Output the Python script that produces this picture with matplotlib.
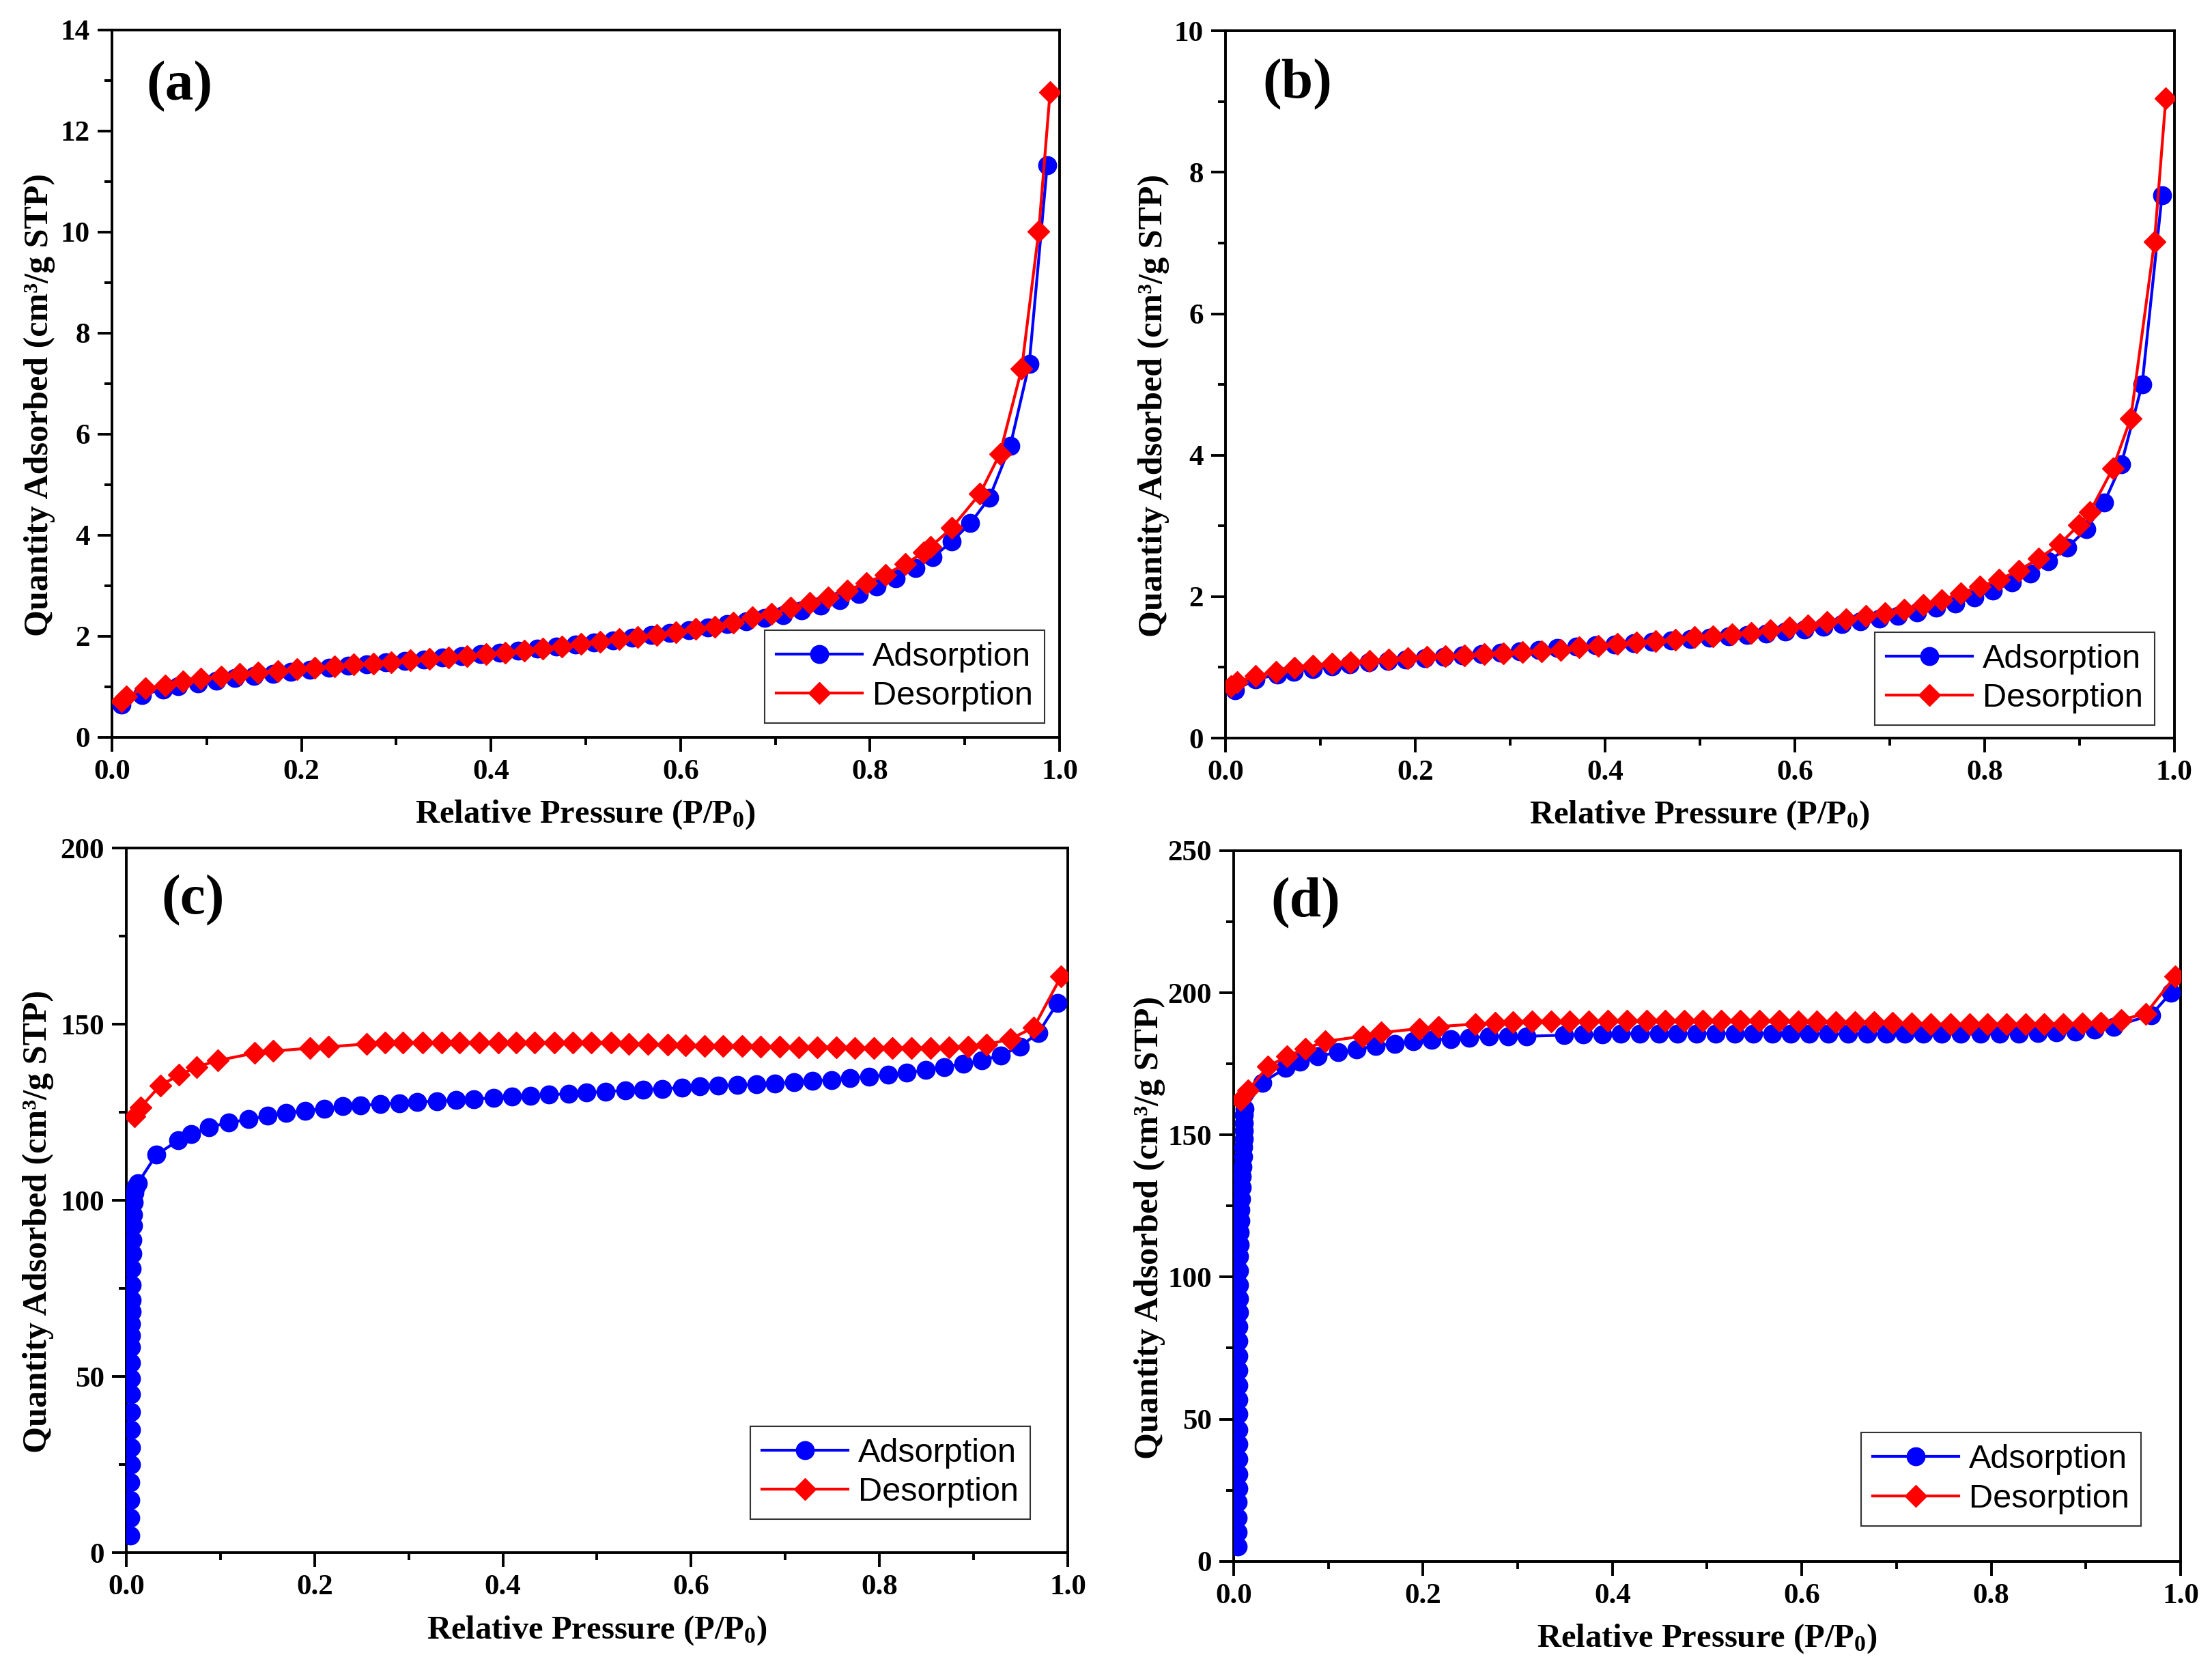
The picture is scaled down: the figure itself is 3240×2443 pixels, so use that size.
import matplotlib
matplotlib.use("Agg")
import matplotlib.pyplot as plt
from matplotlib.ticker import MultipleLocator

# ---- data ----
# (a)
a_ads_x = [0.010, 0.032, 0.054, 0.070, 0.091, 0.110, 0.130, 0.150, 0.170, 0.189,
           0.209, 0.229, 0.249, 0.269, 0.289, 0.309, 0.329, 0.349, 0.369, 0.389,
           0.409, 0.429, 0.449, 0.469, 0.489, 0.509, 0.529, 0.549, 0.569, 0.589,
           0.609, 0.629, 0.649, 0.669, 0.689, 0.708, 0.728, 0.748, 0.768, 0.788,
           0.807, 0.827, 0.848, 0.866, 0.886, 0.906, 0.926, 0.948, 0.968, 0.987]
a_ads_y = [0.65, 0.84, 0.95, 1.01, 1.07, 1.12, 1.17, 1.21, 1.25, 1.30,
           1.33, 1.37, 1.41, 1.44, 1.48, 1.51, 1.54, 1.58, 1.61, 1.64,
           1.68, 1.71, 1.75, 1.79, 1.83, 1.87, 1.92, 1.97, 2.02, 2.07,
           2.12, 2.18, 2.24, 2.30, 2.36, 2.42, 2.51, 2.61, 2.72, 2.84,
           2.98, 3.14, 3.35, 3.56, 3.87, 4.24, 4.74, 5.77, 7.39, 11.33]
a_des_x = [0.010, 0.015, 0.035, 0.056, 0.075, 0.094, 0.115, 0.135, 0.154, 0.175,
           0.195, 0.214, 0.235, 0.255, 0.276, 0.295, 0.315, 0.335, 0.355, 0.375,
           0.395, 0.415, 0.435, 0.455, 0.475, 0.495, 0.515, 0.535, 0.555, 0.575,
           0.595, 0.616, 0.636, 0.656, 0.676, 0.696, 0.716, 0.736, 0.756, 0.776,
           0.796, 0.816, 0.837, 0.857, 0.864, 0.886, 0.916, 0.937, 0.960, 0.978, 0.990]
a_des_y = [0.72, 0.81, 0.97, 1.03, 1.10, 1.16, 1.20, 1.25, 1.28, 1.31,
           1.35, 1.37, 1.40, 1.44, 1.46, 1.49, 1.52, 1.55, 1.58, 1.61,
           1.64, 1.68, 1.72, 1.75, 1.80, 1.85, 1.89, 1.95, 1.98, 2.03,
           2.08, 2.14, 2.19, 2.27, 2.37, 2.45, 2.56, 2.66, 2.77, 2.91,
           3.05, 3.22, 3.43, 3.66, 3.77, 4.14, 4.82, 5.61, 7.29, 10.01, 12.77]

# (b)
b_ads_x = [0.010, 0.032, 0.055, 0.072, 0.092, 0.112, 0.131, 0.151, 0.171, 0.190,
           0.210, 0.230, 0.250, 0.270, 0.290, 0.310, 0.330, 0.350, 0.370, 0.390,
           0.410, 0.430, 0.450, 0.470, 0.490, 0.510, 0.530, 0.550, 0.570, 0.590,
           0.610, 0.630, 0.650, 0.669, 0.689, 0.709, 0.729, 0.749, 0.769, 0.789,
           0.809, 0.829, 0.848, 0.867, 0.887, 0.907, 0.926, 0.944, 0.966, 0.987]
b_ads_y = [0.68, 0.83, 0.90, 0.94, 0.98, 1.01, 1.04, 1.07, 1.09, 1.11,
           1.13, 1.15, 1.17, 1.19, 1.21, 1.23, 1.25, 1.27, 1.29, 1.31,
           1.32, 1.34, 1.36, 1.38, 1.40, 1.42, 1.44, 1.46, 1.48, 1.51,
           1.54, 1.57, 1.61, 1.65, 1.69, 1.73, 1.78, 1.84, 1.90, 1.99,
           2.09, 2.20, 2.33, 2.50, 2.69, 2.95, 3.33, 3.87, 5.00, 7.68]
b_des_x = [0.006, 0.012, 0.032, 0.053, 0.073, 0.092, 0.112, 0.132, 0.152, 0.172,
           0.192, 0.212, 0.232, 0.252, 0.273, 0.293, 0.313, 0.333, 0.353, 0.373,
           0.393, 0.413, 0.433, 0.453, 0.474, 0.494, 0.514, 0.534, 0.554, 0.574,
           0.594, 0.614, 0.634, 0.654, 0.675, 0.695, 0.715, 0.735, 0.755, 0.775,
           0.795, 0.815, 0.836, 0.857, 0.879, 0.899, 0.911, 0.935, 0.954, 0.979, 0.991]
b_des_y = [0.73, 0.79, 0.88, 0.94, 0.99, 1.02, 1.05, 1.07, 1.09, 1.11,
           1.13, 1.15, 1.16, 1.17, 1.19, 1.20, 1.22, 1.23, 1.25, 1.28,
           1.30, 1.33, 1.35, 1.37, 1.39, 1.43, 1.44, 1.47, 1.49, 1.53,
           1.56, 1.59, 1.64, 1.68, 1.73, 1.77, 1.82, 1.88, 1.95, 2.05,
           2.14, 2.24, 2.37, 2.54, 2.74, 3.01, 3.20, 3.81, 4.52, 7.02, 9.05]

# (c)
c_ads_x = [0.0045, 0.0046, 0.0047, 0.0047, 0.0048, 0.0048, 0.0049, 0.0049, 0.0050, 0.0050,
           0.0051, 0.0052, 0.0053, 0.0054, 0.0055, 0.0056, 0.0058, 0.0060, 0.0063, 0.0066,
           0.0070, 0.0075, 0.0081, 0.0090, 0.0100, 0.0120,
           0.032, 0.055, 0.069, 0.088, 0.109, 0.130, 0.150, 0.170, 0.190, 0.210,
           0.230, 0.249, 0.270, 0.290, 0.309, 0.330, 0.350, 0.369, 0.390, 0.410,
           0.429, 0.449, 0.470, 0.489, 0.509, 0.530, 0.549, 0.569, 0.590, 0.609,
           0.629, 0.649, 0.669, 0.689, 0.709, 0.729, 0.749, 0.769, 0.789, 0.809,
           0.829, 0.849, 0.869, 0.889, 0.909, 0.929, 0.949, 0.969, 0.989]
c_ads_y = [5.0, 10.0, 15.0, 20.0, 25.0, 30.0, 35.0, 40.0, 45.0, 49.5,
           54.0, 58.3, 61.7, 65.0, 68.4, 71.7, 76.0, 80.6, 85.0, 88.9,
           92.8, 96.0, 99.5, 102.2, 104.0, 104.8,
           113.0, 117.0, 118.8, 120.8, 122.1, 123.0, 124.0, 124.8, 125.5, 126.0,
           126.7, 127.0, 127.3, 127.6, 127.9, 128.2, 128.5, 128.8, 129.1, 129.4,
           129.7, 130.0, 130.3, 130.6, 130.9, 131.2, 131.4, 131.7, 132.0, 132.3,
           132.6, 132.7, 132.9, 133.2, 133.6, 133.9, 134.2, 134.7, 135.2, 135.6,
           136.2, 137.0, 137.9, 138.8, 139.7, 141.2, 143.6, 147.6, 156.0]
c_des_x = [0.009, 0.015, 0.036, 0.056, 0.075, 0.097, 0.136, 0.156, 0.195, 0.215,
           0.255, 0.275, 0.294, 0.315, 0.335, 0.354, 0.375, 0.395, 0.414, 0.434,
           0.455, 0.474, 0.494, 0.515, 0.534, 0.554, 0.575, 0.594, 0.614, 0.634,
           0.654, 0.674, 0.694, 0.714, 0.734, 0.754, 0.774, 0.794, 0.814, 0.834,
           0.854, 0.874, 0.894, 0.914, 0.939, 0.964, 0.993]
c_des_y = [123.8, 126.4, 132.6, 135.6, 137.9, 139.7, 141.8, 142.4, 143.2, 143.6,
           144.4, 144.7, 144.8, 144.8, 144.8, 144.8, 144.8, 144.8, 144.8, 144.8,
           144.7, 144.7, 144.7, 144.7, 144.5, 144.5, 144.2, 144.1, 143.9, 143.8,
           143.8, 143.6, 143.6, 143.5, 143.5, 143.5, 143.3, 143.3, 143.3, 143.3,
           143.3, 143.5, 143.6, 144.2, 145.8, 149.1, 163.6]

# (d)
d_ads_x = [0.0046, 0.0046, 0.0047, 0.0047, 0.0048, 0.0048, 0.0049, 0.0049, 0.0050, 0.0050,
           0.0051, 0.0051, 0.0052, 0.0052, 0.0053, 0.0054, 0.0055, 0.0056, 0.0057, 0.0058,
           0.0060, 0.0062, 0.0065, 0.0070, 0.0075, 0.0080, 0.0085, 0.0090, 0.0095, 0.0100,
           0.0104, 0.0106, 0.0108, 0.0110, 0.0112, 0.0114,
           0.030, 0.055, 0.070, 0.089, 0.110, 0.130, 0.150, 0.170, 0.190, 0.209,
           0.229, 0.249, 0.270, 0.290, 0.309, 0.349, 0.369, 0.389, 0.409, 0.429,
           0.449, 0.469, 0.489, 0.509, 0.529, 0.549, 0.569, 0.588, 0.608, 0.628,
           0.649, 0.669, 0.689, 0.709, 0.728, 0.748, 0.768, 0.789, 0.809, 0.829,
           0.849, 0.869, 0.889, 0.909, 0.929, 0.969, 0.990]
d_ads_y = [5.3, 10.3, 15.4, 20.8, 25.7, 30.6, 36.0, 41.2, 46.3, 51.7,
           56.9, 61.9, 67.1, 72.3, 77.4, 82.6, 87.5, 92.4, 97.3, 102.2,
           107.2, 111.4, 115.6, 119.8, 123.6, 127.5, 131.5, 135.3, 138.8, 142.3,
           145.8, 148.6, 151.4, 154.2, 157.0, 159.1,
           168.4, 173.5, 175.7, 177.6, 179.1, 180.0, 181.4, 182.1, 182.9, 183.4,
           183.8, 184.2, 184.6, 184.7, 184.7, 185.1, 185.3, 185.3, 185.5, 185.7,
           185.7, 185.7, 185.7, 185.7, 185.7, 185.7, 185.7, 185.7, 185.7, 185.5,
           185.5, 185.5, 185.5, 185.5, 185.5, 185.5, 185.5, 185.5, 185.5, 185.7,
           185.9, 186.0, 186.4, 187.0, 188.1, 192.2, 200.1]
d_des_x = [0.007, 0.015, 0.036, 0.056, 0.076, 0.097, 0.136, 0.156, 0.196, 0.216,
           0.255, 0.276, 0.295, 0.315, 0.335, 0.355, 0.375, 0.395, 0.415, 0.436,
           0.456, 0.476, 0.495, 0.515, 0.535, 0.555, 0.576, 0.596, 0.616, 0.636,
           0.656, 0.676, 0.696, 0.716, 0.736, 0.757, 0.777, 0.796, 0.816, 0.836,
           0.856, 0.876, 0.896, 0.916, 0.937, 0.963, 0.994]
d_des_y = [162.2, 165.6, 174.0, 177.6, 180.4, 182.9, 184.7, 186.0, 187.4, 188.1,
           189.0, 189.4, 189.8, 190.0, 190.0, 190.0, 190.0, 190.2, 190.2, 190.2,
           190.2, 190.2, 190.2, 190.2, 190.2, 190.2, 190.2, 190.0, 190.0, 189.8,
           189.6, 189.6, 189.4, 189.2, 189.0, 189.0, 189.0, 189.0, 189.0, 189.0,
           189.0, 189.0, 189.2, 189.4, 190.5, 192.6, 205.7]

panel_labels = ["(a)", "(b)", "(c)", "(d)"]
y_limits = [(0, 14), (0, 10), (0, 200), (0, 250)]
y_major = [2, 2, 50, 50]
series = [(a_ads_x, a_ads_y, a_des_x, a_des_y),
          (b_ads_x, b_ads_y, b_des_x, b_des_y),
          (c_ads_x, c_ads_y, c_des_x, c_des_y),
          (d_ads_x, d_ads_y, d_des_x, d_des_y)]

# ---- layout ----
plt.rcParams['font.family'] = 'Liberation Serif'
plt.rcParams['font.weight'] = 'bold'
plt.rcParams['mathtext.fontset'] = 'custom'
plt.rcParams['mathtext.rm'] = 'Liberation Serif:bold'
plt.rcParams['mathtext.it'] = 'Liberation Serif:bold'

fig = plt.figure(figsize=(32.4, 24.43), dpi=100)
boxes = [[0.0506, 0.558, 0.4284, 0.424],
         [0.554, 0.5575, 0.429, 0.424],
         [0.0571, 0.069, 0.4256, 0.4226],
         [0.5577, 0.064, 0.4281, 0.426]]
ylab_x = [-0.060, -0.059, -0.077, -0.072]
tag_pos = [(0.036, 0.92), (0.039, 0.924), (0.037, 0.926), (0.039, 0.926)]
leg_anchor = [(0.984, 0.02), (0.979, 0.018), (0.960, 0.048), (0.958, 0.05)]

for i in range(4):
    ax = fig.add_axes(boxes[i])
    ads_x, ads_y, des_x, des_y = series[i]
    ax.plot(ads_x, ads_y, '-', color='#0000ff', lw=3, marker='o', ms=19,
            mec='#0000ff', mfc='#0000ff', label='Adsorption', zorder=3)
    ax.plot(des_x, des_y, '-', color='#ff0000', lw=3, marker='D', ms=16,
            mec='#ff0000', mfc='#ff0000', label='Desorption', zorder=4)

    ax.set_xlim(0, 1.0)
    ax.set_ylim(*y_limits[i])
    ax.xaxis.set_major_locator(MultipleLocator(0.2))
    ax.xaxis.set_minor_locator(MultipleLocator(0.1))
    ax.yaxis.set_major_locator(MultipleLocator(y_major[i]))
    ax.yaxis.set_minor_locator(MultipleLocator(y_major[i] / 2))
    ax.xaxis.set_major_formatter(matplotlib.ticker.FormatStrFormatter('%.1f'))
    ax.tick_params(which='major', direction='out', length=15, width=2.8,
                   labelsize=31, pad=8)
    ax.tick_params(which='minor', direction='out', length=8, width=2.8)
    for sp in ax.spines.values():
        sp.set_linewidth(2.8)

    ax.set_xlabel('Relative Pressure (P/P$_0$)', fontsize=35, fontweight='bold', labelpad=14)
    ax.set_ylabel('Quantity Adsorbed (cm³/g STP)', fontsize=36, fontweight='bold')
    ax.yaxis.set_label_coords(ylab_x[i], 0.47)

    ax.text(tag_pos[i][0], tag_pos[i][1], panel_labels[i], transform=ax.transAxes,
            fontsize=60, fontweight='bold', va='center', ha='left')

    leg = ax.legend(loc='lower right', bbox_to_anchor=leg_anchor[i],
                    prop={'family': 'Liberation Sans', 'size': 35, 'weight': 'normal'},
                    frameon=True, fancybox=False, edgecolor='black',
                    handlelength=2.6, handletextpad=0.3, labelspacing=0.25,
                    borderpad=0.35, borderaxespad=0)
    leg.get_frame().set_linewidth(1.5)

fig.savefig('out.png', dpi=100, facecolor='white')
